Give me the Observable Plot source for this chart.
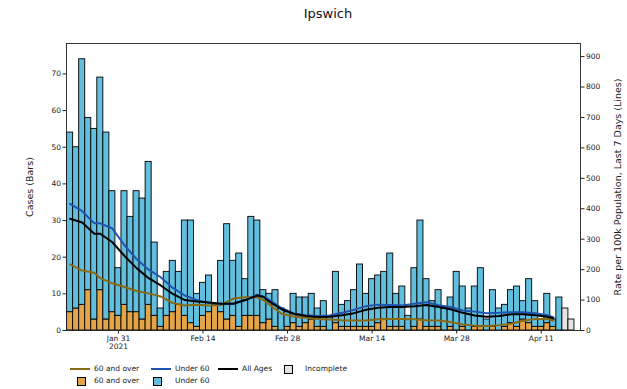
<!DOCTYPE html>
<html><head><meta charset="utf-8">
<script src="https://cdn.jsdelivr.net/npm/d3@7"></script>
<script src="https://cdn.jsdelivr.net/npm/@observablehq/plot@0.6"></script>
<style>
body{margin:0;background:#fff;font-family:"DejaVu Sans",sans-serif;}
#wrap{position:relative;width:627px;height:389px;overflow:hidden;}
#title{position:absolute;left:0;top:6px;width:656px;text-align:center;font-size:13px;color:#111;}
#chart{position:absolute;left:0;top:30px;}
.lt{position:absolute;font-size:7.5px;line-height:10px;color:#222;white-space:nowrap;}
.ll{position:absolute;height:2px;width:20px;}
.lb{position:absolute;width:7px;height:7px;border:1px solid #000;}
</style></head><body>
<div id="wrap">
<div id="title">Ipswich</div>
<div id="chart"></div>
<div id="legend"></div>
</div>
<script>
const startDate = "2021-01-23";
// daily cases, 60 and over (bars), complete days
const over60 = [5,6,7,11,3,11,3,5,4,7,5,5,3,7,4,1,4,5,7,4,2,1,4,5,7,5,3,4,1,4,4,
  4,2,3,1,0,1,2,1,2,3,1,1,0,2,1,1,1,1,1,1,2,3,1,1,1,0,1,3,1,1,1,0,1,0,1,0,1,1,0,1,0,1,2,1,3,2,1,1,2,1,0];
// daily cases, under 60 (bars), complete days
const under60 = [49,44,67,47,52,58,51,33,13,31,26,33,33,39,20,5,12,14,9,26,28,9,9,10,0,14,26,15,20,10,27,
  26,9,7,10,6,4,8,8,7,7,5,7,4,14,6,7,10,17,9,13,13,13,20,9,11,4,16,27,13,7,10,6,8,16,11,6,11,16,3,10,6,6,9,11,5,12,7,2,8,2,9];
// incomplete days (totals) following the complete ones
const incomplete = [6, 3];

// 7-day rates per 100k (lines), read at these day numbers (1 = first bar)
const lineDays   = [1,3,5,6,8,10,12,14,16,18,20,22,24,26,28,30,32,33,34,36,38,40,42,44,46,48,50,52,54,56,58,60,62,64,66,68,70,72,74,76,78,80,81];
const rateAll    = [367,355,318,318,290,245,205,172,148,120,100,95,92,88,88,100,115,110,95,70,55,48,44,45,50,57,68,75,77,77,80,84,77,70,58,49,45,48,53,53,50,45,40];
const rateUnder60= [416,392,352,352,335,280,235,200,175,140,115,100,90,88,88,100,118,112,100,74,56,50,48,49,58,68,80,85,84,82,88,93,83,77,66,62,57,58,60,60,57,50,44];
const rateOver60 = [217,197,190,172,155,143,130,122,112,90,82,85,82,84,105,109,109,100,85,55,46,42,38,36,34,33,33,37,38,38,37,34,33,28,20,16,15,17,22,32,38,38,32];

const xTicks = ["2021-01-31","2021-02-14","2021-02-28","2021-03-14","2021-03-28","2021-04-11"];
const xTickLabels = ["Jan 31\n2021","Feb 14","Feb 28","Mar 14","Mar 28","Apr 11"];
const leftTicks = [0,10,20,30,40,50,60,70];
const rightTicks = [0,100,200,300,400,500,600,700,800,900];

const colOver = "#e3a547", colUnder = "#62bedd", colInc = "#e4e4e4";
const colLOver = "#8a6a12", colLUnder = "#1f55b0", colLAll = "#000000";

const yMax = 78.3, rMax = 943, k = yMax / rMax;
const t0 = new Date(startDate + "T00:00Z");
const day = i => d3.utcDay.offset(t0, i);
const half = 12;

const bars = over60.map((o, i) => ({date: day(i), o, t: o + under60[i]}));
const incBars = incomplete.map((t, j) => ({date: day(over60.length + j), t}));
const mkLine = (arr, s) => lineDays.map((d, i) => ({date: day(d - 1), v: arr[i], s}));

const tickLabelMap = new Map(xTicks.map((d, i) => [new Date(d + "T00:00Z").getTime(), xTickLabels[i]]));

const x1 = d => d3.utcHour.offset(d.date, -half);
const x2 = d => d3.utcHour.offset(d.date, half);

const chart = Plot.plot({
  width: 627, height: 330,
  marginLeft: 66, marginRight: 47, marginTop: 13, marginBottom: 30,
  style: {fontFamily: "DejaVu Sans", fontSize: "7.5px", background: "white", color: "#222", overflow: "visible"},
  x: {type: "utc", domain: [new Date("2021-01-22T09:36Z"), new Date("2021-04-17T12:00Z")]},
  y: {domain: [0, yMax]},
  marks: [
    Plot.rectY(bars, {x1, x2, y1: 0, y2: "o", fill: colOver, stroke: "#000", strokeWidth: 0.9}),
    Plot.rectY(bars, {x1, x2, y1: "o", y2: "t", fill: colUnder, stroke: "#000", strokeWidth: 0.9}),
    Plot.rectY(incBars, {x1, x2, y1: 0, y2: "t", fill: colInc, stroke: "#000", strokeWidth: 0.9}),
    Plot.line(mkLine(rateOver60, "o"), {x: "date", y: d => d.v * k, stroke: colLOver, strokeWidth: 2}),
    Plot.line(mkLine(rateUnder60, "u"), {x: "date", y: d => d.v * k, stroke: colLUnder, strokeWidth: 2}),
    Plot.line(mkLine(rateAll, "a"), {x: "date", y: d => d.v * k, stroke: colLAll, strokeWidth: 2}),
    Plot.axisX({ticks: xTicks.map(d => new Date(d + "T00:00Z")), tickFormat: d => tickLabelMap.get(d.getTime()), tickSize: 3.5, tickPadding: 2, label: null}),
    Plot.axisY({ticks: leftTicks, tickSize: 3.5, tickPadding: 2, label: "Cases (Bars)", labelArrow: "none", labelAnchor: "center", labelOffset: 40}),
    Plot.axisY({anchor: "right", ticks: rightTicks.map(v => v * k), tickFormat: d => String(Math.round(d / k)), tickSize: 3.5, tickPadding: 2,
      label: "Rate per 100k Population, Last 7 Days (Lines)", labelArrow: "none", labelAnchor: "center", labelOffset: 40}),
    Plot.frame({stroke: "#222", strokeWidth: 0.9})
  ]
});
// axis label fonts, and drop any direction arrows
chart.querySelectorAll("g[aria-label='y-axis label']").forEach(g => {
  g.setAttribute("font-size", "9.5px");
  g.setAttribute("fill", "#222");
  g.querySelectorAll("text, tspan").forEach(t => {
    if (t.childNodes.length === 1 && t.firstChild.nodeType === 3) t.textContent = t.textContent.replace(/[\u2190-\u2193]/g, "").trim();
  });
});
document.getElementById("chart").appendChild(chart);

// legend
const leg = document.getElementById("legend");
const add = (html) => leg.insertAdjacentHTML("beforeend", html);
const lineItem = (x, y, c, text) => { add(`<div class="ll" style="left:${x}px;top:${y-1}px;background:${c}"></div><div class="lt" style="left:${x+24}px;top:${y-5}px">${text}</div>`); };
const boxItem = (x, y, c, text, tx) => { add(`<div class="lb" style="left:${x}px;top:${y-4}px;background:${c}"></div><div class="lt" style="left:${tx}px;top:${y-5}px">${text}</div>`); };
lineItem(70, 369, colLOver, "60 and over");
lineItem(151, 369, colLUnder, "Under 60");
lineItem(218, 369, colLAll, "All Ages");
boxItem(284, 369, colInc, "Incomplete", 305);
boxItem(77, 381, colOver, "60 and over", 94);
boxItem(153, 381, colUnder, "Under 60", 175);
</script>
</body></html>
